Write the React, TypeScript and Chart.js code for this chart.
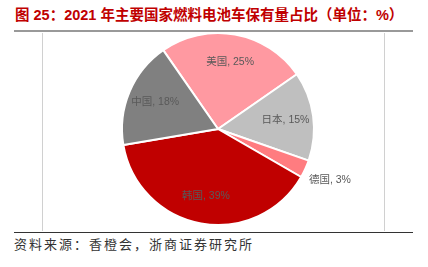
import React, { useEffect, useRef } from "react";
import { Chart, registerables } from "chart.js";

Chart.register(...registerables);

const TITLE = "图 25：2021 年主要国家燃料电池车保有量占比（单位：%）";
const SOURCE = "资料来源：香橙会，浙商证券研究所";
const categories = ["美国", "日本", "德国", "韩国", "中国"];
const values = [25, 15, 3, 39, 18];
const colors = ["#FF99A1", "#BFBFBF", "#FF7C80", "#C00000", "#808080"];
const outsideLabel = [false, false, true, false, false];

const labelPlugin = {
  id: "sliceLabels",
  afterDatasetsDraw(chart: any) {
    const ctx = chart.ctx;
    const meta = chart.getDatasetMeta(0);
    ctx.save();
    ctx.font = '10.5px "Liberation Sans", "Noto Sans CJK SC", sans-serif';
    ctx.fillStyle = "#595959";
    ctx.textBaseline = "middle";
    meta.data.forEach((arc: any, i: number) => {
      const p = arc.getProps(["x", "y", "startAngle", "endAngle", "outerRadius"], true);
      const mid = (p.startAngle + p.endAngle) / 2;
      const text = `${categories[i]}, ${values[i]}%`;
      if (outsideLabel[i]) {
        const r = p.outerRadius + 4;
        ctx.textAlign = "left";
        ctx.fillText(text, p.x + Math.cos(mid) * r, p.y + Math.sin(mid) * r + 9);
      } else {
        const r = p.outerRadius * 0.71;
        ctx.textAlign = "center";
        ctx.fillText(text, p.x + Math.cos(mid) * r, p.y + Math.sin(mid) * r);
      }
    });
    ctx.restore();
  },
};

export default function App() {
  const ref = useRef<HTMLCanvasElement>(null);
  useEffect(() => {
    if (!ref.current) return;
    const chart = new Chart(ref.current, {
      type: "pie",
      data: {
        labels: categories,
        datasets: [
          {
            data: values,
            backgroundColor: colors,
            borderColor: "#FFFFFF",
            borderWidth: 2,
          },
        ],
      },
      options: {
        animation: false,
        responsive: false,
        rotation: -34.8,
        layout: { padding: { left: 10, right: 0, top: 0, bottom: 4 } },
        plugins: {
          legend: { display: false },
          tooltip: { enabled: false },
        },
      },
      plugins: [labelPlugin],
    });
    return () => chart.destroy();
  }, []);

  return (
    <div
      style={{
        position: "fixed",
        left: 0,
        top: 0,
        width: 428,
        height: 267,
        background: "#fff",
        overflow: "hidden",
      }}
    >
      <div
        style={{
          position: "absolute",
          left: 15,
          top: 6,
          fontFamily: '"Liberation Sans", "Noto Sans CJK SC", sans-serif',
          fontWeight: "bold",
          fontSize: 14.5,
          lineHeight: "18px",
          color: "#C00000",
          whiteSpace: "nowrap",
        }}
      >
        {TITLE}
      </div>
      <div style={{ position: "absolute", left: 14, top: 30, width: 399, height: 2, background: "#999" }} />
      <div style={{ position: "absolute", left: 42, top: 33, width: 1, height: 198, background: "#D0D0D0" }} />
      <div style={{ position: "absolute", left: 384, top: 33, width: 1, height: 198, background: "#D0D0D0" }} />
      <div style={{ position: "absolute", left: 14, top: 232, width: 399, height: 1, background: "#333" }} />
      <canvas
        ref={ref}
        width={342}
        height={198}
        style={{ position: "absolute", left: 42, top: 32, width: 342, height: 198 }}
      />
      <div
        style={{
          position: "absolute",
          left: 14,
          top: 236,
          fontFamily: '"Noto Sans CJK SC", sans-serif',
          fontSize: 13,
          lineHeight: "16px",
          letterSpacing: 2,
          color: "#333",
          whiteSpace: "nowrap",
        }}
      >
        {SOURCE}
      </div>
    </div>
  );
}
